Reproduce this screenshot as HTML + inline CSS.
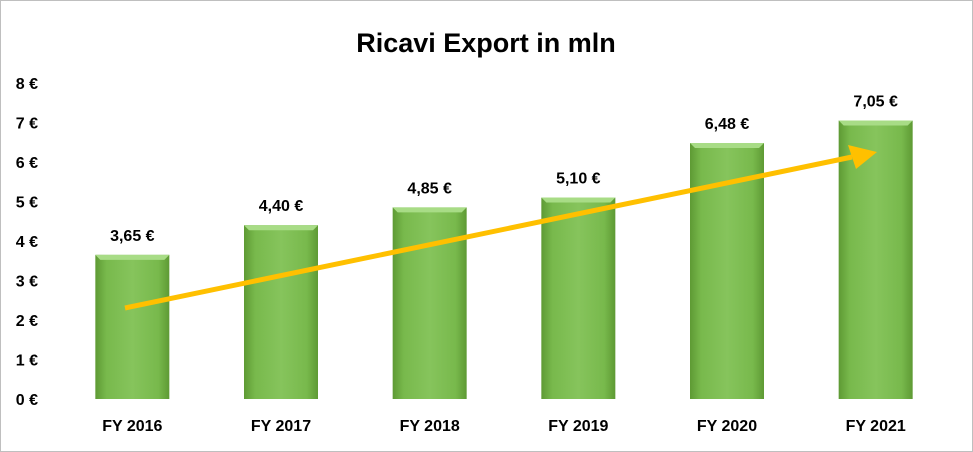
<!DOCTYPE html>
<html><head><meta charset="utf-8"><style>
body{margin:0;background:#fff}
svg{display:block;font-family:"Liberation Sans",sans-serif}
</style></head><body>
<svg id="c" width="973" height="452" viewBox="0 0 973 452">
<defs>
<linearGradient id="g" x1="0" x2="1" y1="0" y2="0">
<stop offset="0" stop-color="#5e9a34"/><stop offset="0.15" stop-color="#78b94c"/><stop offset="0.5" stop-color="#86c45c"/><stop offset="0.85" stop-color="#78b94c"/><stop offset="1" stop-color="#5e9a34"/>
</linearGradient>
</defs>
<rect x="0.5" y="0.5" width="972" height="451" fill="#fff" stroke="#bfbfbf"/>
<text x="486" y="52" text-anchor="middle" font-size="27" font-weight="bold" fill="#000">Ricavi Export in mln</text>
<g id="yax"></g><g id="bars"></g><g id="xax"></g>
<g>
<line x1="125" y1="308" x2="852" y2="157" stroke="#ffc000" stroke-width="5"/>
<polygon points="877,152 848,145 856,169" fill="#ffc000"/>
</g>
</svg>
<script>
const categories=["FY 2016","FY 2017","FY 2018","FY 2019","FY 2020","FY 2021"];
const values=[3.65,4.40,4.85,5.10,6.48,7.05];
const yTicks=[0,1,2,3,4,5,6,7,8];
const NS="http://www.w3.org/2000/svg";
const y0=399,yTop=83,yMax=8,xL=58,xR=950;
const y=v=>y0-(v/yMax)*(y0-yTop);
const band=(xR-xL)/categories.length;
const xc=i=>xL+band*(i+0.5);
function mk(t,a,p){const e=document.createElementNS(NS,t);for(const k in a)e.setAttribute(k,a[k]);p.appendChild(e);return e;}
const fmt=v=>v.toFixed(2).replace('.',',')+' €';
const ya=document.getElementById('yax');
yTicks.forEach(t=>{
 const e=mk('text',{x:38,y:y(t)+6,'text-anchor':'end','font-size':16,'font-weight':'bold'},ya);
 
 
 e.textContent=t+' €';
});
const bg=document.getElementById('bars'),xa=document.getElementById('xax');
values.forEach((v,i)=>{
 const w=74,x=xc(i)-w/2,top=y(v);
 const r=mk('rect',{x:x,y:top,width:w,height:y0-top,fill:'url(#g)'},bg);
 
 
 mk('polygon',{points:`${x},${top} ${x+w},${top} ${x+w-5},${top+5} ${x+5},${top+5}`,fill:'#a8dc86'},bg);
 const l=mk('text',{x:xc(i),y:top-14,'text-anchor':'middle','font-size':16,'font-weight':'bold'},bg);
 
 
 l.textContent=fmt(v);
 const c=mk('text',{x:xc(i),y:431,'text-anchor':'middle','font-size':16,'font-weight':'bold'},xa);
 
 
 c.textContent=categories[i];
});
</script>
</body></html>
